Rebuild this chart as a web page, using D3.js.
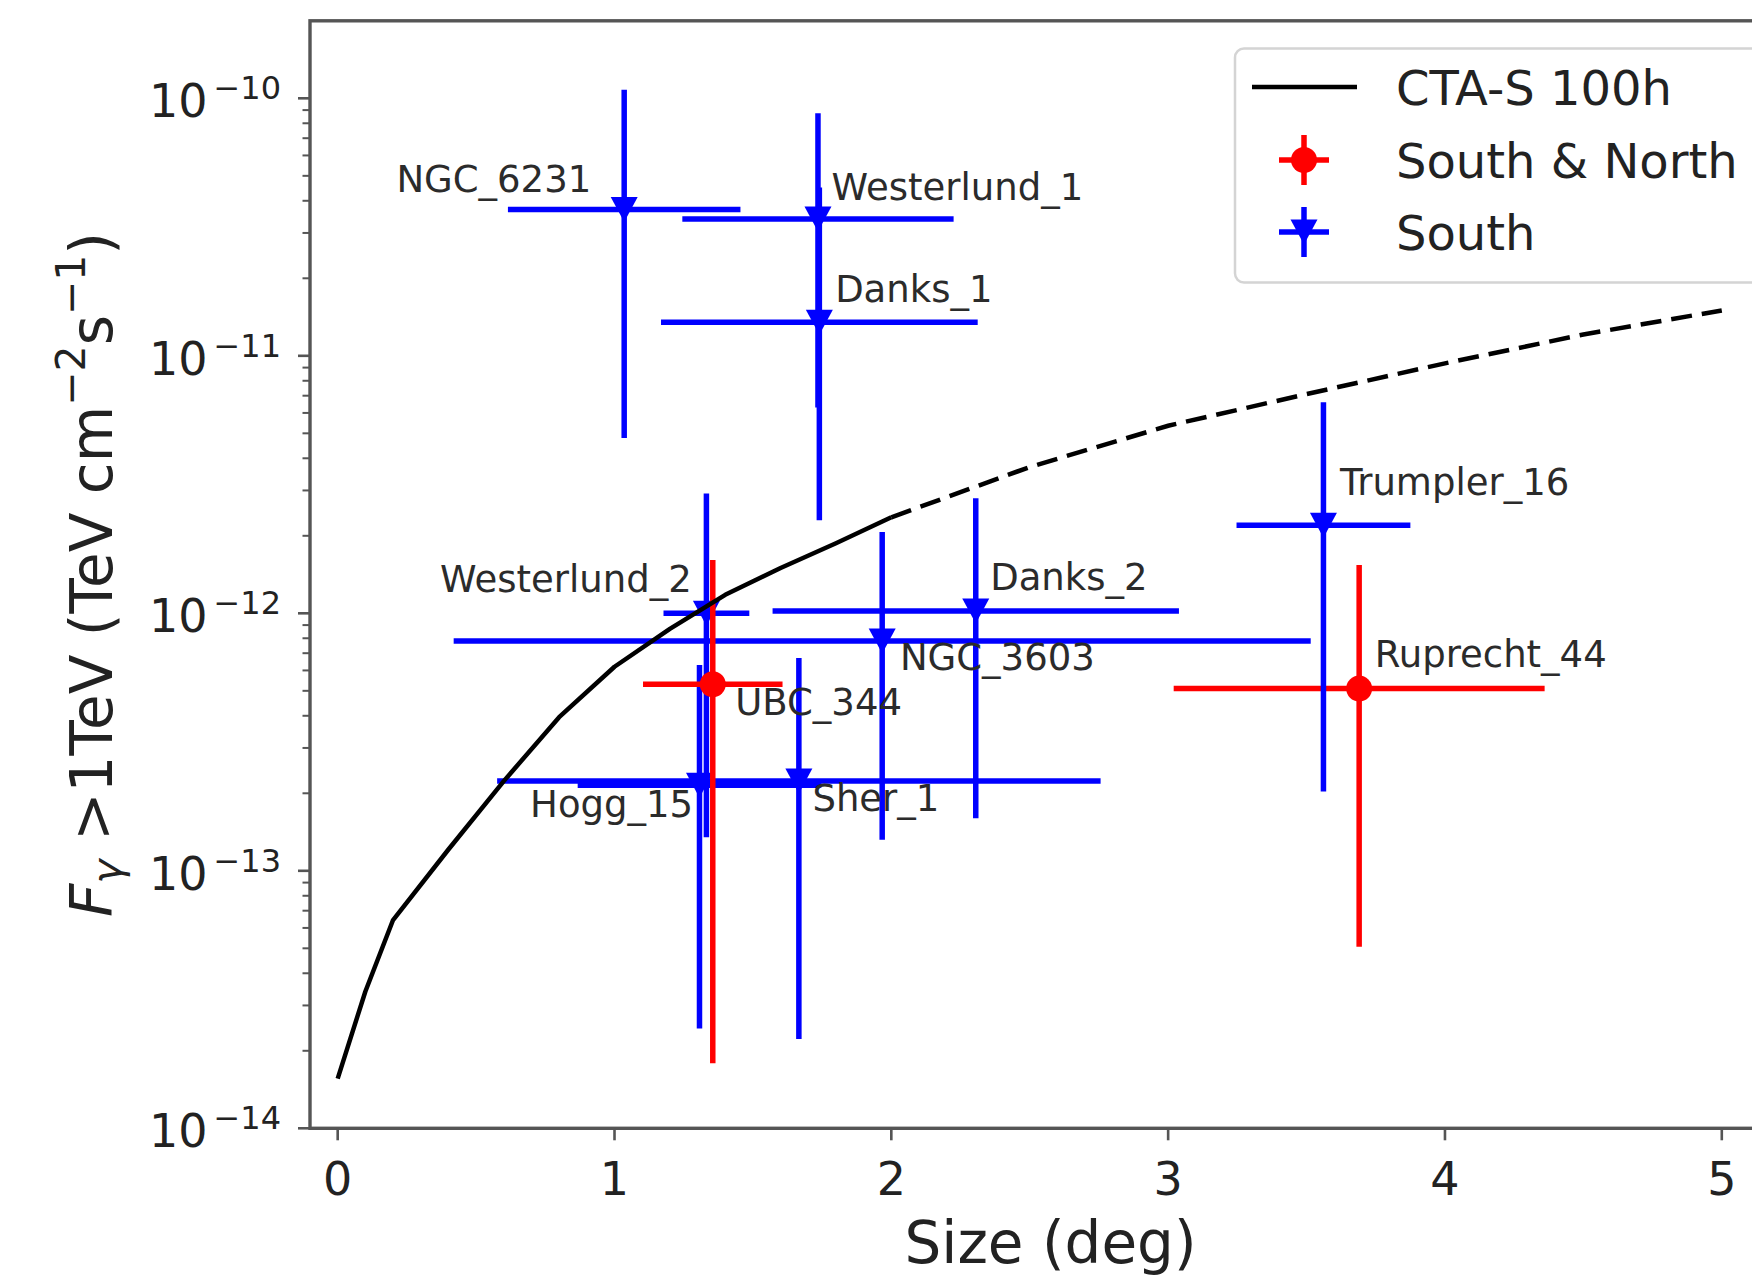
<!DOCTYPE html>
<html>
<head>
<meta charset="utf-8">
<script src="https://cdn.jsdelivr.net/npm/d3@7"></script>
<style>
  html, body { margin: 0; padding: 0; background: #fff; }
  svg { display: block; font-family: "DejaVu Sans", sans-serif; }
</style>
</head>
<body>
<svg id="chart" width="1752" height="1277"></svg>
<script>
// Star clusters: angular size (deg) and integrated gamma-ray flux above 1 TeV
const clusters   = ["Ruprecht_44", "Trumpler_16", "NGC_6231", "Westerlund_1", "Danks_1", "Westerlund_2", "Danks_2", "NGC_3603", "Hogg_15", "Sher_1", "UBC_344"];
const visibility = ["South & North", "South", "South", "South", "South", "South", "South", "South", "South", "South", "South & North"];
const sizeDeg    = [3.69, 3.561, 1.035, 1.735, 1.74, 1.332, 2.305, 1.967, 1.307, 1.666, 1.355];
const sizeErr    = [0.67, 0.314, 0.42, 0.49, 0.572, 0.155, 0.734, 1.548, 0.44, 1.09, 0.252];
const flux       = [5.1e-13, 2.2e-12, 3.7e-11, 3.4e-11, 1.35e-11, 1.0e-12, 1.02e-12, 7.8e-13, 2.15e-13, 2.23e-13, 5.3e-13];
const fluxLow    = [5.07e-14, 2.03e-13, 4.8e-12, 6.3e-12, 2.3e-12, 1.35e-13, 1.6e-13, 1.32e-13, 2.44e-14, 2.22e-14, 1.79e-14];
const fluxHigh   = [1.54e-12, 6.6e-12, 1.08e-10, 8.75e-11, 4.5e-11, 2.92e-12, 2.8e-12, 2.07e-12, 6.3e-13, 6.7e-13, 1.61e-12];

// Name placement in data coordinates (size, flux); side = which end of the text sits there
const labelSize = [3.746, 3.621, 0.916, 1.784, 1.797, 1.279, 2.357, 2.031, 1.284, 1.715, 1.436];
const labelFlux = [6.21e-13, 2.88e-12, 4.33e-11, 4.03e-11, 1.62e-11, 1.21e-12, 1.23e-12, 6.03e-13, 1.62e-13, 1.7e-13, 4.03e-13];
const labelSide = ["start", "start", "end", "start", "start", "end", "start", "start", "end", "start", "start"];

// CTA-South 100 h sensitivity versus source extension (computed range, then extrapolated)
const sensSize = [0, 0.1, 0.2, 0.4, 0.6, 0.8, 1.0, 1.2, 1.4, 1.6, 1.8, 2.0];
const sensFlux = [1.56e-14, 3.4e-14, 6.44e-14, 1.21e-13, 2.23e-13, 3.95e-13, 6.2e-13, 8.7e-13, 1.18e-12, 1.5e-12, 1.87e-12, 2.36e-12];
const extSize  = [2.0, 2.5, 3.0, 3.5, 4.0, 4.5, 5.0];
const extFlux  = [2.36e-12, 3.7e-12, 5.35e-12, 7.1e-12, 9.35e-12, 1.21e-11, 1.5e-11];

const xTicks   = [0, 1, 2, 3, 4, 5];
const yTickExp = [-14, -13, -12, -11, -10];

const legendLabels = ["CTA-S 100h", "South & North", "South"];
const groupColor = { "South & North": "#ff0000", "South": "#0000ff" };

const svg = d3.select("#chart");

const mLeft = 310, mTop = 20.8, mBottom = 1128.3, mRight = 1791;
const x = d3.scaleLinear().domain([-0.1, 5.25]).range([mLeft, mRight]);
const y = d3.scaleLog().domain([1e-14, 2e-10]).range([mBottom, mTop]);

svg.append("defs").append("clipPath").attr("id", "plotArea")
  .append("rect").attr("x", mLeft).attr("y", mTop)
  .attr("width", mRight - mLeft).attr("height", mBottom - mTop);

const plot = svg.append("g").attr("clip-path", "url(#plotArea)");

// ---- error bars and markers ----
const barWidth = 5.5;
const tri = (cx, cy) => `M${cx - 13.5},${cy - 12.5}L${cx + 13.5},${cy - 12.5}L${cx},${cy + 12.5}Z`;

clusters.forEach((name, i) => {
  const c = groupColor[visibility[i]];
  const g = plot.append("g");
  g.append("line")
    .attr("x1", x(sizeDeg[i] - sizeErr[i])).attr("x2", x(sizeDeg[i] + sizeErr[i]))
    .attr("y1", y(flux[i])).attr("y2", y(flux[i]))
    .attr("stroke", c).attr("stroke-width", barWidth);
  g.append("line")
    .attr("x1", x(sizeDeg[i])).attr("x2", x(sizeDeg[i]))
    .attr("y1", y(fluxLow[i])).attr("y2", y(fluxHigh[i]))
    .attr("stroke", c).attr("stroke-width", barWidth);
  if (visibility[i] === "South & North") {
    g.append("circle").attr("cx", x(sizeDeg[i])).attr("cy", y(flux[i])).attr("r", 13).attr("fill", c);
  } else {
    g.append("path").attr("d", tri(x(sizeDeg[i]), y(flux[i]))).attr("fill", c);
  }
});

// ---- sensitivity curve ----
const line = d3.line().x(d => x(d[0])).y(d => y(d[1]));
plot.append("path")
  .datum(sensSize.map((s, i) => [s, sensFlux[i]]))
  .attr("d", line).attr("fill", "none")
  .attr("stroke", "#000").attr("stroke-width", 4.5).attr("stroke-linejoin", "round");
plot.append("path")
  .datum(extSize.map((s, i) => [s, extFlux[i]]))
  .attr("d", line).attr("fill", "none")
  .attr("stroke", "#000").attr("stroke-width", 4.5)
  .attr("stroke-dasharray", "21,10");

// ---- cluster names ----
clusters.forEach((name, i) => {
  svg.append("text")
    .attr("x", x(labelSize[i])).attr("y", y(labelFlux[i]))
    .attr("text-anchor", labelSide[i])
    .attr("font-size", 37).attr("fill", "#2b2b2b")
    .text(name);
});

// ---- axes ----
const axisColor = "#555";
svg.append("rect").attr("x", mLeft).attr("y", mTop)
  .attr("width", mRight - mLeft).attr("height", mBottom - mTop)
  .attr("fill", "none").attr("stroke", axisColor).attr("stroke-width", 3.4);

const xAxis = svg.append("g");
xTicks.forEach(t => {
  xAxis.append("line").attr("x1", x(t)).attr("x2", x(t))
    .attr("y1", mBottom).attr("y2", mBottom + 12)
    .attr("stroke", axisColor).attr("stroke-width", 2.6);
  xAxis.append("text").attr("x", x(t)).attr("y", 1195)
    .attr("text-anchor", "middle").attr("font-size", 46).attr("fill", "#222")
    .text(d3.format("d")(t));
});

const yAxis = svg.append("g");
yTickExp.forEach(e => {
  const v = Math.pow(10, e);
  yAxis.append("line").attr("x1", mLeft - 12).attr("x2", mLeft)
    .attr("y1", y(v)).attr("y2", y(v))
    .attr("stroke", axisColor).attr("stroke-width", 2.6);
  const t = yAxis.append("text").attr("x", 281).attr("y", y(v) + 19)
    .attr("text-anchor", "end").attr("font-size", 46).attr("fill", "#222");
  t.append("tspan").text("10");
  t.append("tspan").attr("dx", 6).attr("dy", -18).attr("font-size", 32).text("\u2212" + Math.abs(e));
  // minor ticks within this decade
  for (let m = 2; m <= 9; m++) {
    const mv = m * v;
    if (mv >= y.domain()[1]) break;
    yAxis.append("line").attr("x1", mLeft - 7.5).attr("x2", mLeft)
      .attr("y1", y(mv)).attr("y2", y(mv))
      .attr("stroke", axisColor).attr("stroke-width", 2);
  }
});

// axis titles
svg.append("text").attr("x", (mLeft + mRight) / 2).attr("y", 1263)
  .attr("text-anchor", "middle").attr("font-size", 58).attr("fill", "#222")
  .text("Size (deg)");

const yl = svg.append("text")
  .attr("transform", `translate(112,${(mTop + mBottom) / 2}) rotate(-90)`)
  .attr("text-anchor", "middle").attr("font-size", 58).attr("fill", "#222");
yl.append("tspan").attr("font-style", "italic").text("F");
yl.append("tspan").attr("font-style", "italic").attr("font-size", 41).attr("dy", 9).text("\u03b3");
yl.append("tspan").attr("dy", -9).text(" >1TeV (TeV cm");
yl.append("tspan").attr("font-size", 41).attr("dy", -27).text("\u22122");
yl.append("tspan").attr("dy", 27).text("s");
yl.append("tspan").attr("font-size", 41).attr("dy", -27).text("\u22121");
yl.append("tspan").attr("dy", 27).text(")");

// ---- legend ----
const lg = svg.append("g");
lg.append("rect").attr("x", 1235).attr("y", 48.5).attr("width", 620).attr("height", 234)
  .attr("rx", 9).attr("fill", "#fff").attr("fill-opacity", 0.85)
  .attr("stroke", "#d4d4d4").attr("stroke-width", 2.5);

const rowY = [87, 160, 232];
const hx = 1304;
lg.append("line").attr("x1", 1252).attr("x2", 1357).attr("y1", rowY[0]).attr("y2", rowY[0])
  .attr("stroke", "#000").attr("stroke-width", 4.5);
["South & North", "South"].forEach((grp, k) => {
  const cy = rowY[k + 1], c = groupColor[grp];
  lg.append("line").attr("x1", hx - 25).attr("x2", hx + 25).attr("y1", cy).attr("y2", cy)
    .attr("stroke", c).attr("stroke-width", barWidth);
  lg.append("line").attr("x1", hx).attr("x2", hx).attr("y1", cy - 25).attr("y2", cy + 25)
    .attr("stroke", c).attr("stroke-width", barWidth);
  if (grp === "South & North") lg.append("circle").attr("cx", hx).attr("cy", cy).attr("r", 13).attr("fill", c);
  else lg.append("path").attr("d", tri(hx, cy)).attr("fill", c);
});
legendLabels.forEach((lab, k) => {
  lg.append("text").attr("x", 1396).attr("y", rowY[k] + 17.5)
    .attr("font-size", 48).attr("fill", "#222").text(lab);
});
</script>
</body>
</html>
